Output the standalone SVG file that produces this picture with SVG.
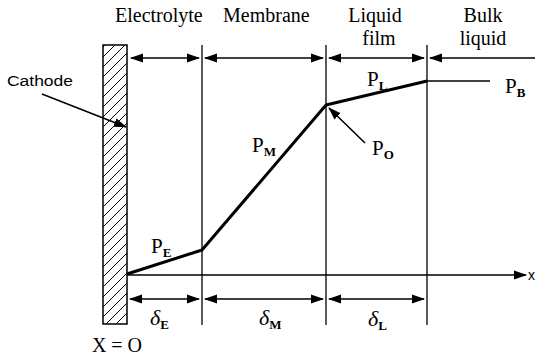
<svg xmlns="http://www.w3.org/2000/svg" width="535" height="361" viewBox="0 0 535 361">
<style>
.ser{font-family:"Liberation Serif","Times New Roman",serif;fill:#000}
.t{font-size:20px}
.p{font-size:21px}
.sub{font-size:13px;font-weight:bold}
.d{font-size:22px;font-style:italic}
.thin{stroke:#000;stroke-width:1.3;fill:none}
.arr{stroke:#000;stroke-width:1.6;fill:none}
.prof{stroke:#000;stroke-width:3;fill:none;stroke-linejoin:round}
</style>
<defs>
<marker id="ah" markerUnits="userSpaceOnUse" markerWidth="13" markerHeight="10" refX="12" refY="5" orient="auto-start-reverse">
<path d="M0,0.5 L13,5 L0,9.5 Z" fill="#000"/>
</marker>
<pattern id="hatch" patternUnits="userSpaceOnUse" width="10" height="10">
<path d="M0,10 L10,0 M-2,2 L2,-2 M8,12 L12,8" stroke="#000" stroke-width="1"/>
</pattern>
</defs>
<g id="cathode">
<rect x="103" y="45" width="24" height="279" fill="url(#hatch)" stroke="#000" stroke-width="1.5"/>
</g>
<g id="boundaries">
<line class="thin" x1="202" y1="45" x2="202" y2="325"/>
<line class="thin" x1="326" y1="45" x2="326" y2="325"/>
<line class="thin" x1="427" y1="45" x2="427" y2="325"/>
</g>
<g id="connectors">
<line class="arr" x1="131" y1="58" x2="199" y2="58" marker-start="url(#ah)" marker-end="url(#ah)"/>
<line class="arr" x1="205" y1="58" x2="323" y2="58" marker-start="url(#ah)" marker-end="url(#ah)"/>
<line class="arr" x1="329" y1="58" x2="424" y2="58" marker-start="url(#ah)" marker-end="url(#ah)"/>
<line class="arr" x1="430" y1="58" x2="535" y2="58" marker-start="url(#ah)"/>
<line class="arr" x1="130" y1="299" x2="199" y2="299" marker-start="url(#ah)" marker-end="url(#ah)"/>
<line class="arr" x1="205" y1="299" x2="323" y2="299" marker-start="url(#ah)" marker-end="url(#ah)"/>
<line class="arr" x1="329" y1="299" x2="424" y2="299" marker-start="url(#ah)" marker-end="url(#ah)"/>
<line class="arr" x1="127" y1="275" x2="526" y2="275" marker-end="url(#ah)"/>
<line class="arr" x1="42" y1="94" x2="126" y2="127" marker-end="url(#ah)"/>
<line class="arr" x1="365" y1="143" x2="329" y2="108" marker-end="url(#ah)"/>
</g>
<g id="profile">
<polyline class="prof" points="127,274 202,250 326,105 427,81"/>
<line x1="427" y1="81" x2="490" y2="81" stroke="#000" stroke-width="1.5"/>
</g>
<g id="labels">
<text x="7" y="86" font-family="'Liberation Sans',Arial,sans-serif" font-size="14" textLength="66" lengthAdjust="spacingAndGlyphs">Cathode</text>
<text class="ser t" x="115" y="22">Electrolyte</text>
<text class="ser t" x="223" y="22">Membrane</text>
<text class="ser t" x="375" y="22" text-anchor="middle">Liquid</text>
<text class="ser t" x="379" y="45" text-anchor="middle">film</text>
<text class="ser t" x="483" y="22" text-anchor="middle">Bulk</text>
<text class="ser t" x="483" y="45" text-anchor="middle">liquid</text>
<text class="ser p" x="151" y="253">P<tspan class="sub" dy="4">E</tspan></text>
<text class="ser p" x="252" y="152">P<tspan class="sub" dy="4">M</tspan></text>
<text class="ser p" x="367" y="86">P<tspan class="sub" dy="4">L</tspan></text>
<text class="ser p" x="505" y="93">P<tspan class="sub" dy="4">B</tspan></text>
<text class="ser p" x="372" y="155">P<tspan class="sub" dy="4">O</tspan></text>
<text class="ser d" x="150" y="325">δ<tspan class="sub" font-style="normal" dy="4">E</tspan></text>
<text class="ser d" x="259" y="325">δ<tspan class="sub" font-style="normal" dy="4">M</tspan></text>
<text class="ser d" x="368" y="326">δ<tspan class="sub" font-style="normal" dy="4">L</tspan></text>
<text x="528" y="280" font-family="'Liberation Sans',Arial,sans-serif" font-size="14">x</text>
<text class="ser t" x="92" y="352" textLength="50" lengthAdjust="spacing">X=O</text>
</g>
</svg>
